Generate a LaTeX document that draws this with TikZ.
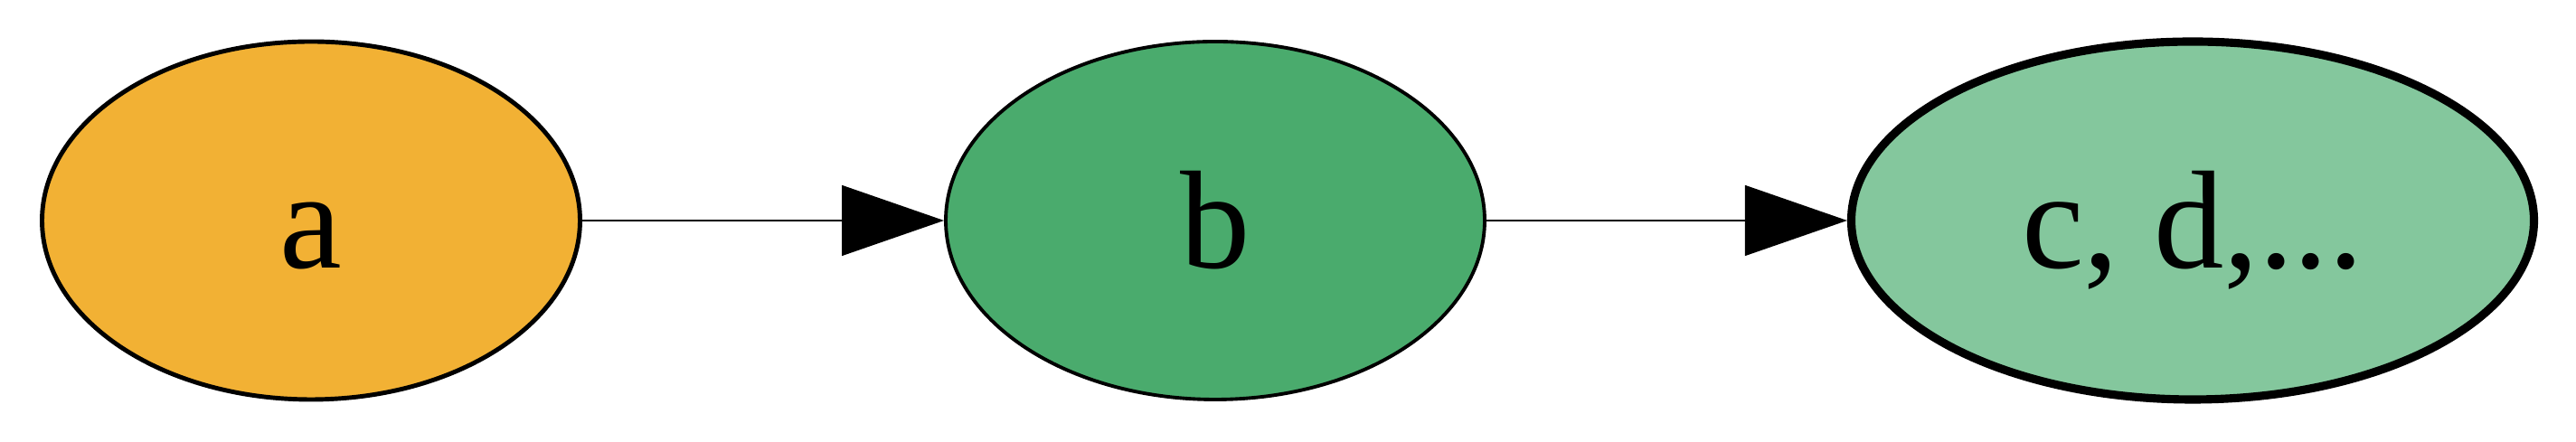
\documentclass[tikz,border=0pt]{standalone}
\usepackage{fontspec}
\setmainfont{Liberation Serif}
\usetikzlibrary{shapes.geometric,arrows.meta}
\definecolor{aorange}{HTML}{F2B134}
\definecolor{bgreen}{HTML}{4AAB6D}
\definecolor{cgreen}{HTML}{84C79D}
\begin{document}
\begin{tikzpicture}[
    state/.style={ellipse, draw=black, inner sep=0pt, minimum height=3.96cm,
      font=\fontsize{44}{50}\selectfont, text height=1.2cm, text depth=0.14cm},
    flow/.style={line width=0.4pt, -{Triangle[length=1.13cm, width=0.78cm]}}
  ]
  \useasboundingbox (0,0) rectangle (28.49,4.89);

  % Nodes
  \node[state, fill=aorange, line width=1.4pt, minimum width=5.95cm] (a) at (3.44,2.45) {a};
  \node[state, fill=bgreen, line width=1.1pt, minimum width=5.96cm] (b) at (13.44,2.45) {b};
  \node[state, fill=cgreen, line width=2.6pt, minimum width=7.55cm] (c) at (24.25,2.45) {c, d,...};

  % Arrows
  \draw[flow] (a) -- (b);
  \draw[flow] (b) -- (c);
\end{tikzpicture}
\end{document}
